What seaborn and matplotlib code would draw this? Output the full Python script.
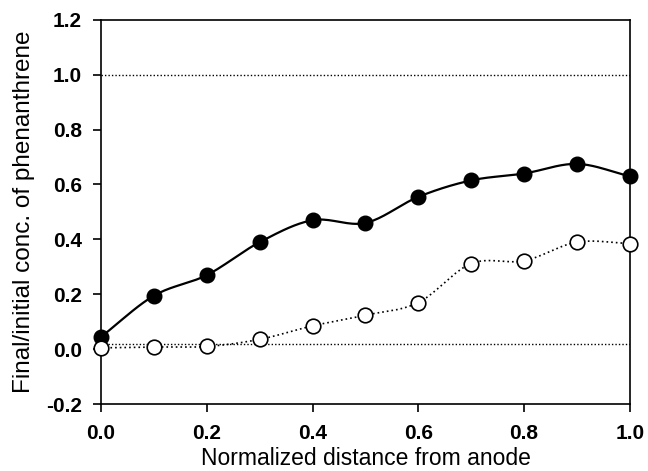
import numpy as np
import pandas as pd
import seaborn as sns
import matplotlib
matplotlib.use("Agg")
import matplotlib.pyplot as plt

# values
distance = [0.0, 0.1, 0.2, 0.3, 0.4, 0.5, 0.6, 0.7, 0.8, 0.9, 1.0]
filled_conc = [0.045, 0.195, 0.27, 0.39, 0.47, 0.46, 0.555, 0.615, 0.64, 0.675, 0.63]
open_conc = [0.005, 0.008, 0.01, 0.036, 0.085, 0.124, 0.17, 0.312, 0.322, 0.39, 0.385]
ref_levels = [1.0, 0.02]
x_ticks = [0.0, 0.2, 0.4, 0.6, 0.8, 1.0]
y_ticks = [-0.2, 0.0, 0.2, 0.4, 0.6, 0.8, 1.0, 1.2]


def smooth(x, y, n=20):
    """Catmull-Rom curve through the points, only for drawing the line."""
    x = np.asarray(x, float)
    y = np.asarray(y, float)
    px = np.concatenate([[2 * x[0] - x[1]], x, [2 * x[-1] - x[-2]]])
    py = np.concatenate([[2 * y[0] - y[1]], y, [2 * y[-1] - y[-2]]])
    xs, ys = [], []
    t = np.linspace(0, 1, n, endpoint=False)
    for i in range(1, len(px) - 2):
        for p, out in ((px, xs), (py, ys)):
            p0, p1, p2, p3 = p[i - 1], p[i], p[i + 1], p[i + 2]
            out.extend(0.5 * (2 * p1 + (-p0 + p2) * t
                              + (2 * p0 - 5 * p1 + 4 * p2 - p3) * t ** 2
                              + (-p0 + 3 * p1 - 3 * p2 + p3) * t ** 3))
    xs.append(x[-1])
    ys.append(y[-1])
    return pd.DataFrame({"x": xs, "y": ys})


sns.set_style("ticks")
plt.rcParams["font.family"] = ["Liberation Sans", "DejaVu Sans"]
plt.rcParams["axes.labelcolor"] = "black"

fig = plt.figure(figsize=(6.48, 4.71), dpi=100)
ax = fig.add_axes([0.156, 0.142, 0.816, 0.816])

for lvl in ref_levels:
    ax.axhline(lvl, color="black", lw=1.0, ls=(0, (1, 1.5)), zorder=1)

sns.lineplot(data=smooth(distance, filled_conc), x="x", y="y", ax=ax,
             color="black", lw=1.6, sort=False, estimator=None, zorder=2)
sns.lineplot(data=smooth(distance, open_conc), x="x", y="y", ax=ax,
             color="black", lw=1.2, ls=(0, (1, 1.8)), sort=False,
             estimator=None, zorder=2)

ax.plot(distance, filled_conc, "o", ms=10.5, mfc="black", mec="black",
        clip_on=False, zorder=4)
ax.plot(distance, open_conc, "o", ms=10.5, mfc="white", mec="black",
        mew=1.2, clip_on=False, zorder=4)

ax.set_xlim(0, 1.0)
ax.set_ylim(-0.2, 1.2)
ax.set_xticks(x_ticks)
ax.set_yticks(y_ticks)
ax.set_xticklabels([f"{v:.1f}" for v in x_ticks], fontsize=15, fontweight="bold")
ax.set_yticklabels([f"{v:.1f}" for v in y_ticks], fontsize=15, fontweight="bold")
ax.tick_params(direction="out", length=6, width=1.2, colors="black")
ax.tick_params(axis="x", pad=8)
ax.tick_params(axis="y", pad=8)
for s in ax.spines.values():
    s.set_visible(True)
    s.set_linewidth(1.2)
    s.set_color("black")

ax.set_xlabel("Normalized distance from anode", fontsize=16.5, labelpad=3,
              color="black")
ax.set_ylabel("Final/initial conc. of phenanthrene", fontsize=17.5, labelpad=8,
              color="black")

fig.savefig("out.png", dpi=100)
